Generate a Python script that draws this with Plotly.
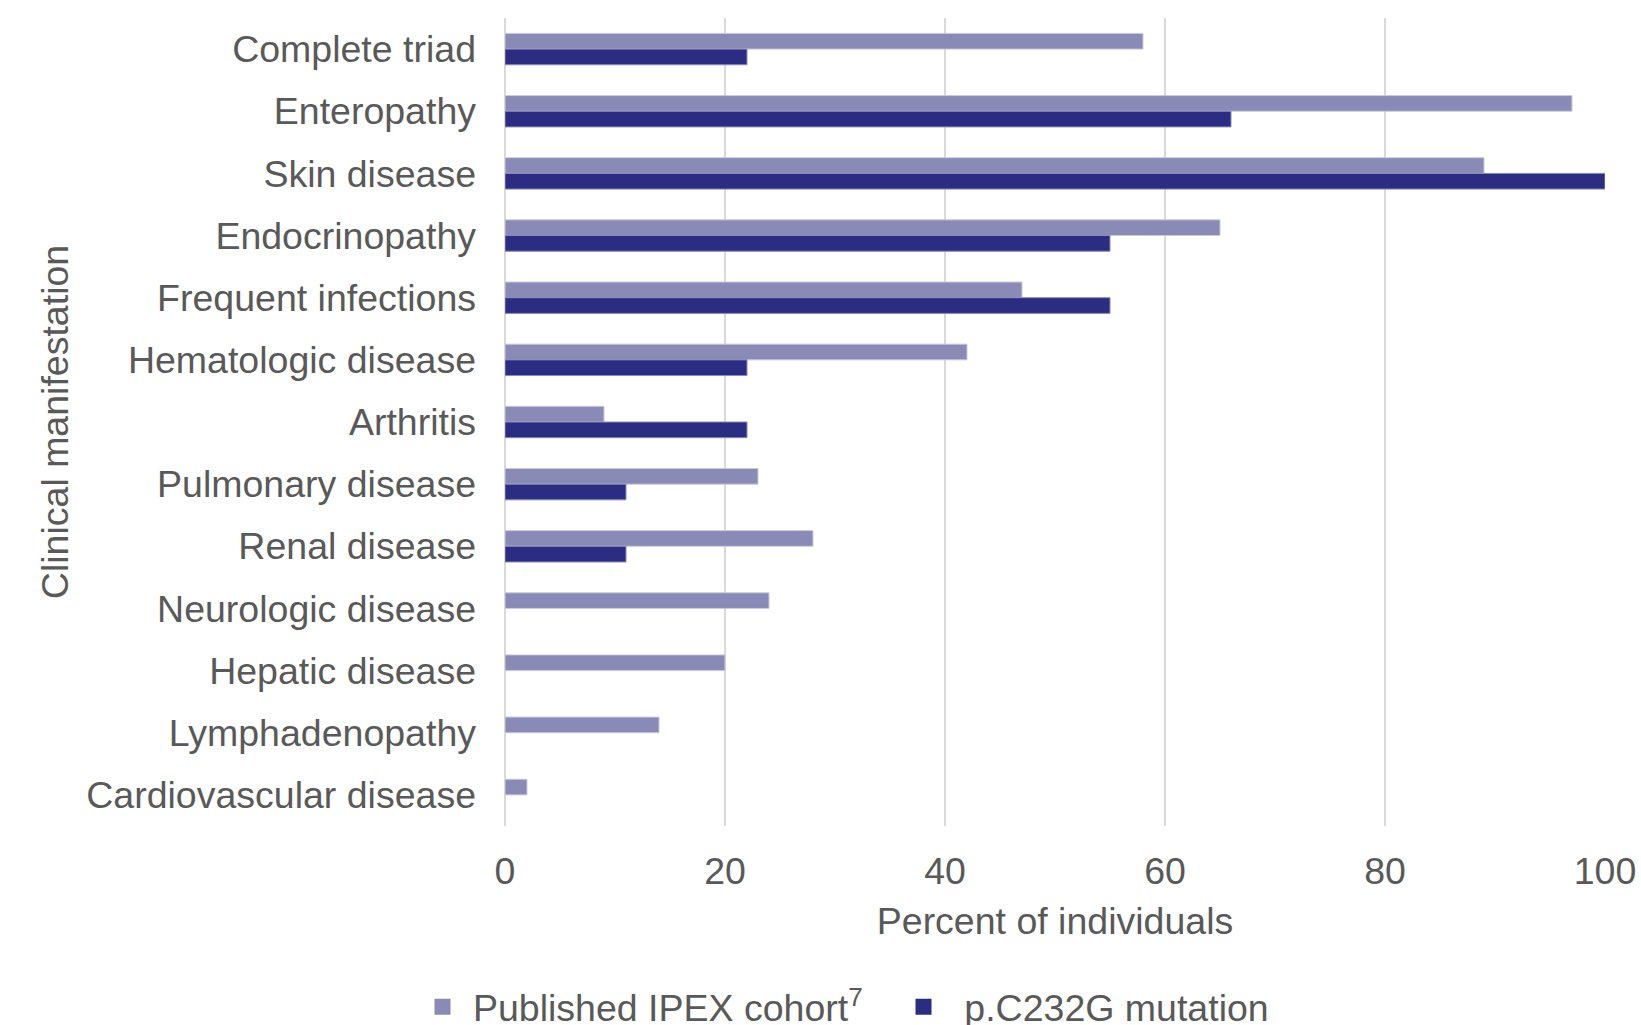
import plotly.graph_objects as go

# Clinical manifestations, listed top to bottom
categories = [
    "Complete triad", "Enteropathy", "Skin disease", "Endocrinopathy",
    "Frequent infections", "Hematologic disease", "Arthritis",
    "Pulmonary disease", "Renal disease", "Neurologic disease",
    "Hepatic disease", "Lymphadenopathy", "Cardiovascular disease",
]
# Percent of individuals with each manifestation
published_ipex = [58, 97, 89, 65, 47, 42, 9, 23, 28, 24, 20, 14, 2]
c232g_mutation = [22, 66, 100, 55, 55, 22, 22, 11, 11, None, None, None, None]

x_ticks = [0, 20, 40, 60, 80, 100]

series_names = ["Published IPEX cohort<sup>7</sup>", "p.C232G mutation"]
series_colors = ["#8a8ab6", "#2b2d83"]
edge_colors = ["#c9c9e0", "#8a8ab6"]
legend_pads = ["\u00a0", "\u00a0\u00a0"]

FONT = "Liberation Sans, Arial, sans-serif"
FS = 37.5
TEXT = "#595959"
GRID = "#d9d9d9"

fig = go.Figure()
for vals, name, col, edge in zip([published_ipex, c232g_mutation],
                                 series_names, series_colors, edge_colors):
    fig.add_trace(go.Bar(
        y=categories, x=vals, orientation="h", name=name,
        marker=dict(color=col, line=dict(color=edge, width=1)),
        showlegend=False,
    ))

# Square legend keys sized like the chart's swatches
for name, col, pad in zip(series_names, series_colors, legend_pads):
    fig.add_trace(go.Scatter(
        x=[None], y=[None], mode="markers", name=pad + name,
        marker=dict(symbol="square", size=19, color=col),
        showlegend=True,
    ))

fig.update_layout(
    width=1641, height=1025,
    margin=dict(l=505, r=36, t=18, b=199, autoexpand=False),
    paper_bgcolor="white", plot_bgcolor="white",
    barmode="group", bargap=0.495, bargroupgap=0,
    font=dict(family=FONT, size=FS, color=TEXT),
    legend=dict(
        orientation="h", x=-0.075, xanchor="left", y=-0.224, yanchor="middle",
        font=dict(family=FONT, size=FS, color=TEXT),
        entrywidth=436, entrywidthmode="pixels",
        traceorder="normal",
    ),
    xaxis=dict(
        range=[0, 100], tickvals=x_ticks, showgrid=True, gridcolor=GRID,
        gridwidth=2, zeroline=True, zerolinecolor=GRID, zerolinewidth=2,
        showline=False, ticks="", ticklabelstandoff=19, automargin=False,
        tickfont=dict(family=FONT, size=FS, color=TEXT),
        title=dict(text="Percent of individuals", standoff=17,
                   font=dict(family=FONT, size=FS, color=TEXT)),
    ),
    yaxis=dict(
        autorange="reversed", showgrid=False, showline=False, ticks="",
        ticklabelstandoff=28, automargin=False,
        tickfont=dict(family=FONT, size=FS, color=TEXT),
        title=dict(text="Clinical manifestation", standoff=6,
                   font=dict(family=FONT, size=FS, color=TEXT)),
    ),
)

fig.write_html("out.html")
